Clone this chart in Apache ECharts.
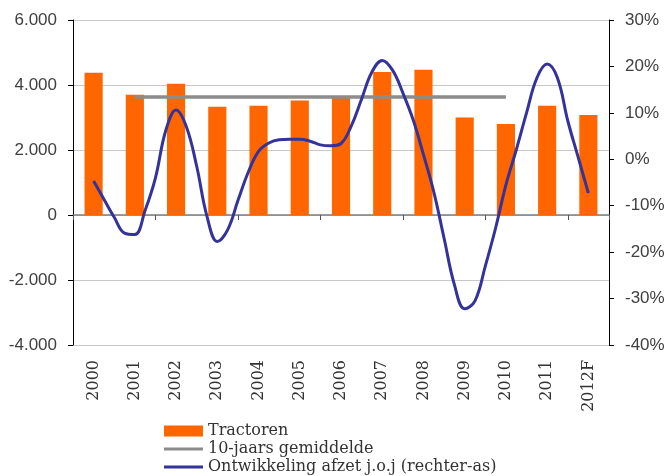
<!DOCTYPE html>
<html>
<head>
<meta charset="utf-8">
<script src="https://cdn.jsdelivr.net/npm/echarts@6/dist/echarts.min.js"></script>
<style>html,body{margin:0;padding:0;background:#fff}#c{width:669px;height:476px}</style>
</head>
<body>
<div id="c"></div>
<script>
const categories = ['2000','2001','2002','2003','2004','2005','2006','2007','2008','2009','2010','2011','2012F'];
const tractoren = [4380, 3700, 4040, 3330, 3360, 3520, 3600, 4400, 4470, 3000, 2800, 3360, 3080];
const gemiddelde = [null, 3630, 3630, 3630, 3630, 3630, 3630, 3630, 3630, 3630, 3630, null, null];
// year-on-year change (%), quarterly readings; time in years
const yoyTime = [2000,2000.25,2000.5,2000.75,2001,2001.25,2001.5,2001.75,2002,2002.25,2002.5,2002.75,2003,2003.25,2003.5,2003.75,2004,2004.25,2004.5,2004.75,2005,2005.25,2005.5,2005.75,2006,2006.25,2006.5,2006.75,2007,2007.25,2007.5,2007.75,2008,2008.25,2008.5,2008.75,2009,2009.25,2009.5,2009.75,2010,2010.25,2010.5,2010.75,2011,2011.25,2011.5,2011.75,2012];
const yoyValues = [-4.7,-8.6,-12.5,-15.9,-16.2,-11.0,-4.0,6.2,10.6,7.0,-1.5,-12.3,-17.7,-15.2,-8.9,-2.8,1.7,3.5,4.2,4.3,4.3,3.9,3.1,2.9,3.4,7.2,13.0,18.8,21.3,19.2,14.3,8.5,1.0,-7.0,-17.0,-27.0,-32.2,-30.5,-23.0,-14.8,-5.5,2.0,10.0,17.5,20.5,17.5,8.3,0.5,-7.3];
const leftTicks = {min: -4000, max: 6000, interval: 2000};
const rightTicks = {min: -40, max: 30, interval: 10};

const chart = echarts.init(document.getElementById('c'));
const axisFont = {fontFamily: 'Liberation Sans', fontSize: 17, color: '#404040'};
const legendText = {fontFamily: 'DejaVu Serif', fontSize: 16, color: '#333', lineHeight: 18};
chart.setOption({
  animation: false,
  grid: {left: 73, right: 60, top: 20, bottom: 131},
  legend: [
    {orient: 'vertical', left: 164, top: 422, padding: 0, itemWidth: 39, itemHeight: 11, itemGap: 0,
     icon: 'rect', textStyle: legendText, data: ['Tractoren']},
    {orient: 'vertical', left: 164, top: 440, padding: 0, itemWidth: 39, itemHeight: 3, itemGap: 0,
     icon: 'rect', textStyle: legendText,
     data: ['10-jaars gemiddelde', 'Ontwikkeling afzet j.o.j (rechter-as)']}
  ],
  xAxis: [
    {type: 'category', data: categories, position: 'bottom',
     axisLine: {show: false, onZero: false}, axisTick: {show: false},
     axisLabel: {rotate: 90, margin: 15, fontFamily: 'DejaVu Serif', fontSize: 16, color: '#333'},
     splitLine: {show: false}},
    {type: 'category', data: categories, position: 'bottom',
     axisLine: {show: true, onZero: true, onZeroAxisIndex: 0, lineStyle: {color: '#7f7f7f', width: 1.5}},
     axisTick: {show: true, length: 5, lineStyle: {color: '#555'}},
     axisLabel: {show: false}, splitLine: {show: false}},
    {type: 'value', min: 0, max: 13, show: false}
  ],
  yAxis: [
    {type: 'value', min: leftTicks.min, max: leftTicks.max, interval: leftTicks.interval,
     axisLine: {show: true, lineStyle: {color: '#000', width: 1}},
     axisTick: {show: true, length: 5, lineStyle: {color: '#000'}},
     axisLabel: Object.assign({margin: 16, formatter: v => v.toLocaleString('nl-NL')}, axisFont),
     splitLine: {show: true, lineStyle: {color: '#c8c8c8', width: 1}}},
    {type: 'value', min: rightTicks.min, max: rightTicks.max, interval: rightTicks.interval, position: 'right',
     axisLine: {show: true, lineStyle: {color: '#000', width: 1}},
     axisTick: {show: true, length: 5, lineStyle: {color: '#000'}},
     axisLabel: Object.assign({margin: 16, formatter: '{value}%'}, axisFont),
     splitLine: {show: false}}
  ],
  series: [
    {name: 'Tractoren', type: 'bar', xAxisIndex: 0, yAxisIndex: 0, data: tractoren,
     barWidth: '44%', itemStyle: {color: '#ff6600'}, z: 1},
    {name: '10-jaars gemiddelde', type: 'line', xAxisIndex: 0, yAxisIndex: 0, data: gemiddelde,
     symbol: 'none', lineStyle: {color: '#8c8c8c', width: 3.5}, itemStyle: {color: '#8c8c8c'}, z: 3},
    {name: 'Ontwikkeling afzet j.o.j (rechter-as)', type: 'line', xAxisIndex: 2, yAxisIndex: 1,
     data: yoyTime.map((t, i) => [t - 2000 + 0.5, yoyValues[i]]),
     symbol: 'none', smooth: 0.4, lineStyle: {color: '#333399', width: 3}, itemStyle: {color: '#333399'}, z: 4}
  ]
});
</script>
</body>
</html>
